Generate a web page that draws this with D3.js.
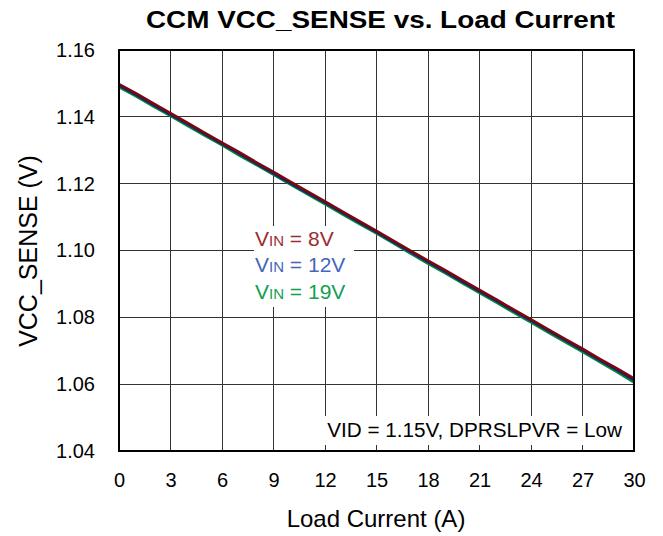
<!DOCTYPE html>
<html lang="en">
<head>
<meta charset="UTF-8">
<title>CCM VCC_SENSE vs. Load Current</title>
<script src="https://d3js.org/d3.v7.min.js"></script>
<style>
body { margin: 0; background: #fff; }
text { font-family: "Liberation Sans", Arial, sans-serif; }
.grid line { stroke: #333; stroke-width: 1; shape-rendering: crispEdges; }
</style>
</head>
<body>
<script>
// load current (A)
var current = [0,1,2,3,4,5,6,7,8,9,10,11,12,13,14,15,16,17,18,19,20,21,22,23,24,25,26,27,28,29,30];
// VCC_SENSE (V) for each input voltage
var vin8 = [1.1498,1.1470,1.1440,1.1411,1.1382,1.1352,1.1323,1.1294,1.1264,1.1235,1.1205,1.1176,1.1147,1.1117,1.1088,1.1059,1.1029,1.0999,1.0970,1.0941,1.0911,1.0882,1.0853,1.0823,1.0794,1.0764,1.0735,1.0706,1.0676,1.0647,1.0617];
var vin12 = [1.1494,1.1466,1.1436,1.1407,1.1378,1.1348,1.1319,1.1290,1.1260,1.1231,1.1201,1.1172,1.1143,1.1113,1.1084,1.1055,1.1025,1.0995,1.0966,1.0937,1.0907,1.0878,1.0849,1.0819,1.0790,1.0760,1.0731,1.0702,1.0672,1.0643,1.0612];
var vin19 = [1.1489,1.1461,1.1431,1.1403,1.1373,1.1344,1.1315,1.1285,1.1256,1.1227,1.1197,1.1168,1.1139,1.1109,1.1080,1.1051,1.1021,1.0991,1.0961,1.0932,1.0902,1.0873,1.0844,1.0814,1.0785,1.0755,1.0726,1.0697,1.0667,1.0637,1.0605];
var series = [
  {name: "19V", values: vin19, line: "#008a2e", text: "#12a050"},
  {name: "12V", values: vin12, line: "#1a1a8c", text: "#4466bb"},
  {name: "8V",  values: vin8,  line: "#7a0a0a", text: "#9b2d30"}
];
var xTicks = [0,3,6,9,12,15,18,21,24,27,30];
var yTicks = [1.04,1.06,1.08,1.10,1.12,1.14,1.16];

var W = 663, H = 536;
var m = {left: 119, right: 29, top: 50, bottom: 85};

var svg = d3.select("body").append("svg").attr("width", W).attr("height", H);

var x = d3.scaleLinear().domain([0, 30]).range([m.left, W - m.right]);
var y = d3.scaleLinear().domain([1.04, 1.16]).range([H - m.bottom, m.top]);

// gridlines
var grid = svg.append("g").attr("class", "grid");
grid.selectAll(".vx").data(xTicks.slice(1, -1)).enter().append("line")
  .attr("x1", d => x(d)).attr("x2", d => x(d))
  .attr("y1", y(1.16)).attr("y2", y(1.04));
grid.selectAll(".hy").data(yTicks.slice(1, -1)).enter().append("line")
  .attr("x1", x(0)).attr("x2", x(30))
  .attr("y1", d => y(d)).attr("y2", d => y(d));

// lines
var line = d3.line().x((d, i) => x(current[i])).y(d => y(d));
svg.selectAll(".series").data(series).enter().append("path")
  .attr("d", d => line(d.values))
  .attr("fill", "none")
  .attr("stroke", d => d.line)
  .attr("stroke-width", 2.6);

// legend with white background
svg.append("rect").attr("x", 254).attr("y", 226).attr("width", 100).attr("height", 81).attr("fill", "#fff");
var leg = svg.selectAll(".leg").data(series.slice().reverse()).enter().append("text")
  .attr("x", 255)
  .attr("y", (d, i) => 245.5 + i * 26.5)
  .attr("fill", d => d.text)
  .style("font-size", "21px");
leg.append("tspan").text("V");
leg.append("tspan").style("font-size", "15px").text("IN");
leg.append("tspan").text(d => " = " + d.name);

// note box
svg.append("rect").attr("x", 321).attr("y", 416).attr("width", 311).attr("height", 30).attr("fill", "#fff");
svg.append("text").attr("x", 622).attr("y", 437).attr("text-anchor", "end")
  .style("font-size", "20.7px").text("VID = 1.15V, DPRSLPVR = Low");

// small inward ticks at bottom
svg.append("g").attr("class", "grid").selectAll("line").data(xTicks.slice(1, -1)).enter().append("line")
  .attr("x1", d => x(d)).attr("x2", d => x(d))
  .attr("y1", y(1.04)).attr("y2", y(1.04) - 6);

// axes
var xAxis = d3.axisBottom(x).tickValues(xTicks).tickSize(0).tickPadding(22).tickFormat(d3.format("d"));
var gx = svg.append("g").attr("transform", "translate(0," + y(1.04) + ")").call(xAxis);
gx.select(".domain").remove();
gx.selectAll("text").style("font-size", "20px").style("font-family", "Liberation Sans, Arial, sans-serif").attr("fill", "#000");

var yAxis = d3.axisLeft(y).tickValues(yTicks).tickSize(0).tickPadding(24).tickFormat(d3.format(".2f"));
var gy = svg.append("g").attr("transform", "translate(" + x(0) + ",0)").call(yAxis);
gy.select(".domain").remove();
gy.selectAll("text").style("font-size", "20px").style("font-family", "Liberation Sans, Arial, sans-serif").attr("fill", "#000");

// plot frame
svg.append("rect").attr("x", x(0)).attr("y", y(1.16))
  .attr("width", x(30) - x(0)).attr("height", y(1.04) - y(1.16))
  .attr("fill", "none").attr("stroke", "#000").attr("stroke-width", 2);

// titles
svg.append("text").attr("x", 146).attr("y", 28)
  .attr("textLength", 469).attr("lengthAdjust", "spacingAndGlyphs")
  .style("font-size", "23px").style("font-weight", "bold").text("CCM VCC_SENSE vs. Load Current");
svg.append("text").attr("x", 376).attr("y", 527).attr("text-anchor", "middle")
  .style("font-size", "24px").text("Load Current (A)");
svg.append("text").attr("transform", "translate(37,251) rotate(-90)").attr("text-anchor", "middle")
  .style("font-size", "25px").text("VCC_SENSE (V)");
</script>
</body>
</html>
